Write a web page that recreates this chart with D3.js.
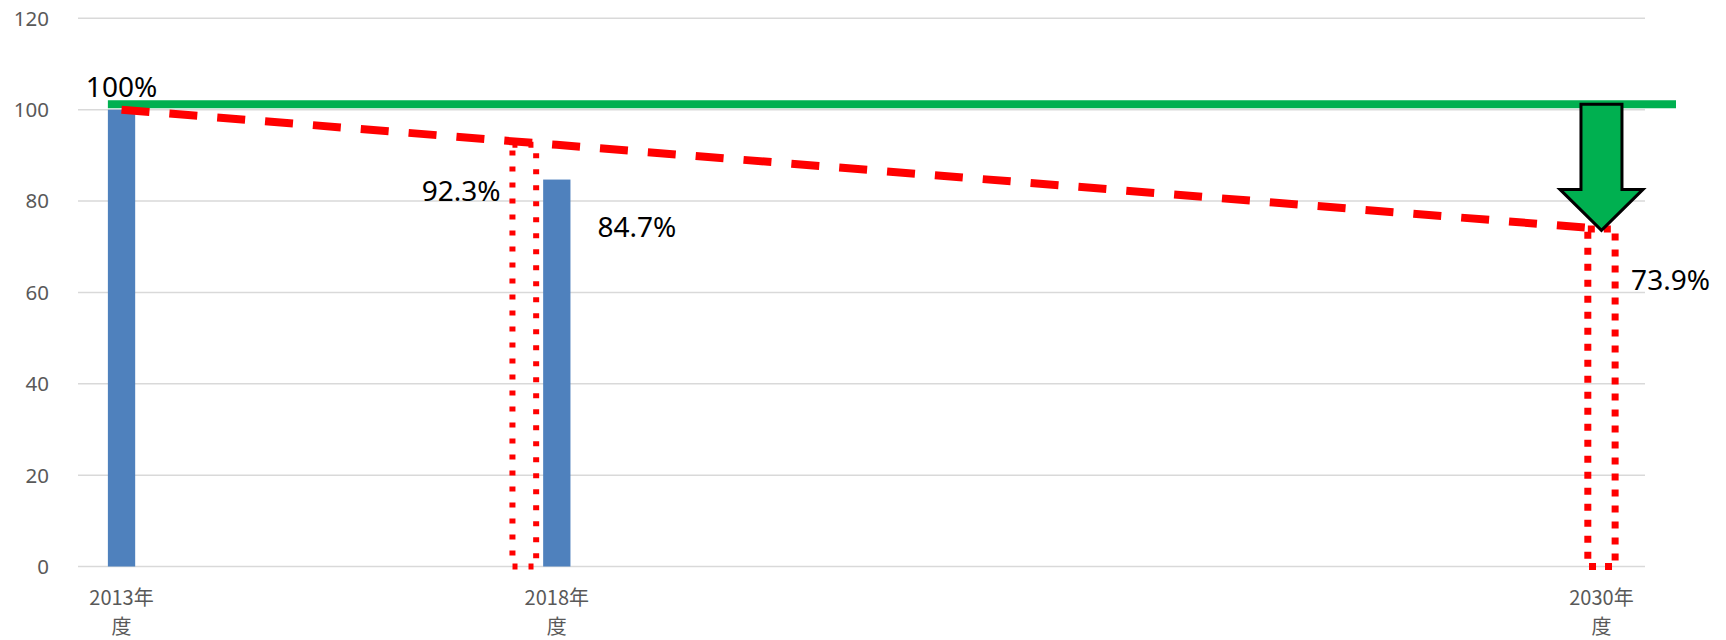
<!DOCTYPE html>
<html><head><meta charset="utf-8">
<script src="https://cdn.jsdelivr.net/npm/d3@7"></script>
<style>body{margin:0;background:#fff}svg{display:block}</style>
</head><body>
<svg id="c" width="1726" height="640"></svg>
<script>
// ---- data ----
const years = d3.range(2013, 2031);           // date-style category axis
const tickYears = [2013, 2018, 2030];
const tickLabels = ["2013年度", "2018年度", "2030年度"];
const yTicks = [0, 20, 40, 60, 80, 100, 120];
const actualYears = [2013, 2018];              // blue bars
const actualValues = [100, 84.7];
const pathYears = [2013, 2018, 2030];          // red dashed target path
const pathValues = [100, 92.3, 73.9];
const targetYears = [2018, 2030];              // red dotted outline bars
const targetValues = [92.3, 73.9];
const baseLevel = 101.2;                       // green reference line
const labelTexts = ["100%", "92.3%", "84.7%", "73.9%"];

// ---- layout ----
const svg = d3.select("#c");
const x = d3.scaleBand().domain(years).range([78, 1645]).padding(0);
const cx = yr => x(yr) + x.bandwidth() / 2;
const y = d3.scaleLinear().domain([0, 120]).range([566.5, 18.3]);
const barW = 27.3;
const font = "'Noto Sans', 'Noto Sans CJK JP', sans-serif";

// gridlines
svg.append("g").selectAll("line").data(yTicks).join("line")
  .attr("x1", x.range()[0]).attr("x2", x.range()[1])
  .attr("y1", d => y(d)).attr("y2", d => y(d))
  .attr("stroke", "#d9d9d9").attr("stroke-width", 1.5);

// y axis labels
svg.append("g").selectAll("text").data(yTicks).join("text")
  .attr("x", 49).attr("y", d => y(d) + 7.4)
  .attr("text-anchor", "end").attr("fill", "#595959")
  .attr("font-family", font).attr("font-size", 20.5)
  .text(d => d);

// x axis labels (wrapped onto two lines)
const xl = svg.append("g").selectAll("text").data(tickYears).join("text")
  .attr("text-anchor", "middle").attr("fill", "#595959")
  .attr("font-family", "'Noto Sans CJK JP', 'Noto Sans', sans-serif").attr("font-size", 20);
xl.append("tspan").attr("x", d => cx(d)).attr("y", 605)
  .text((d, i) => tickLabels[i].slice(0, -1));
xl.append("tspan").attr("x", d => cx(d)).attr("y", 634)
  .text((d, i) => tickLabels[i].slice(-1));

// blue bars
svg.append("g").selectAll("rect").data(actualYears).join("rect")
  .attr("x", d => cx(d) - barW / 2).attr("width", barW)
  .attr("y", (d, i) => y(actualValues[i]))
  .attr("height", (d, i) => y(0) - y(actualValues[i]))
  .attr("fill", "#4f81bd");

// green reference line
svg.append("line")
  .attr("x1", cx(2013) - barW / 2).attr("x2", x.range()[1] + 31)
  .attr("y1", y(baseLevel)).attr("y2", y(baseLevel))
  .attr("stroke", "#00b050").attr("stroke-width", 8);

// dotted outline bars (shifted left when a blue bar shares the year)
const dotStyle = [{w: 23.7, sw: 6, dash: "5,11"}, {w: 27.3, sw: 7, dash: "7,9"}];
svg.append("g").selectAll("rect").data(targetYears).join("rect")
  .attr("x", (d, i) => {
    const shift = actualYears.includes(d) ? barW / 2 + 7 + dotStyle[i].w : dotStyle[i].w / 2;
    return cx(d) - shift;
  })
  .attr("width", (d, i) => dotStyle[i].w)
  .attr("y", (d, i) => y(targetValues[i]))
  .attr("height", (d, i) => y(0) - y(targetValues[i]))
  .attr("fill", "none").attr("stroke", "#ff0000")
  .attr("stroke-width", (d, i) => dotStyle[i].sw)
  .attr("stroke-dasharray", (d, i) => dotStyle[i].dash);

// red dashed path
const line = d3.line().x(d => cx(d[0])).y(d => y(d[1]));
svg.append("path")
  .datum(pathYears.map((yr, i) => [yr, pathValues[i]]))
  .attr("d", line).attr("fill", "none")
  .attr("stroke", "#ff0000").attr("stroke-width", 8)
  .attr("stroke-dasharray", "28,20");

// green down arrow from base line to 2030 target
{
  const ax = cx(2030), top = y(baseLevel), tip = y(pathValues[2]) + 1.5;
  const shaftHalf = 20.5, headHalf = 41.5, headLen = 41;
  const pts = [
    [ax - shaftHalf, top], [ax + shaftHalf, top], [ax + shaftHalf, tip - headLen],
    [ax + headHalf, tip - headLen], [ax, tip], [ax - headHalf, tip - headLen],
    [ax - shaftHalf, tip - headLen]
  ];
  svg.append("path").attr("d", "M" + pts.map(p => p.join(",")).join("L") + "Z")
    .attr("fill", "#00b050").attr("stroke", "#000").attr("stroke-width", 3)
    .attr("stroke-linejoin", "miter");
}

// value labels
const labelLayout = [
  {x: cx(2013), y: y(100) - 13, anchor: "middle"},
  {x: cx(2018) - barW / 2 - 7 - dotStyle[0].w - 12, y: y(92.3) + 56.5, anchor: "end"},
  {x: cx(2018) + barW / 2 + 27, y: y(84.7) + 57.5, anchor: "start"},
  {x: cx(2030) + dotStyle[1].w / 2 + 16, y: y(73.9) + 61, anchor: "start"}
];
svg.append("g").selectAll("text").data(labelTexts).join("text")
  .attr("x", (d, i) => labelLayout[i].x).attr("y", (d, i) => labelLayout[i].y)
  .attr("text-anchor", (d, i) => labelLayout[i].anchor)
  .attr("font-family", font).attr("font-size", 28).attr("fill", "#000")
  .text(d => d);
</script>
</body></html>
